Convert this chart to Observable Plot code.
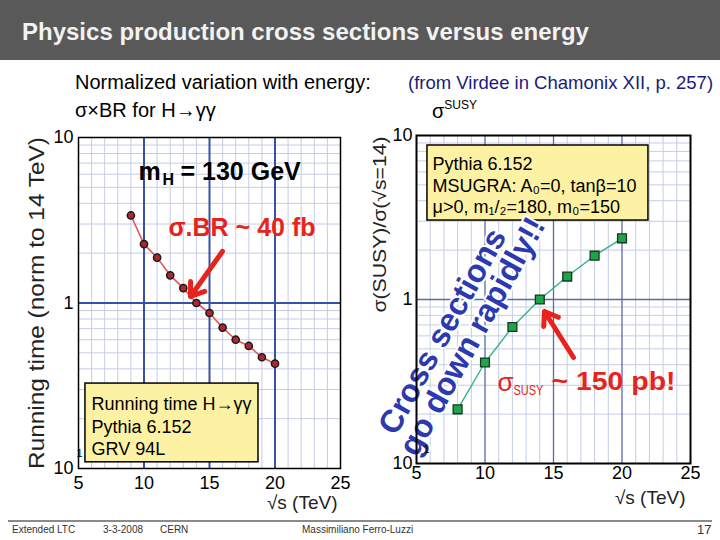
<!DOCTYPE html>
<html>
<head>
<meta charset="utf-8">
<script src="https://cdn.jsdelivr.net/npm/d3@7"></script>
<script src="https://cdn.jsdelivr.net/npm/@observablehq/plot@0.6"></script>
<style>
  html, body { margin: 0; padding: 0; background: #fff; }
  body { font-family: "Liberation Sans", Arial, Helvetica, sans-serif; }
  #page { position: relative; width: 720px; height: 540px; overflow: hidden; background: #fff; }
  .t { position: absolute; white-space: nowrap; line-height: 1; }
  #header { position: absolute; left: 0; top: 0; width: 720px; height: 60px; background: #595959; }
  #footline { position: absolute; left: 8px; top: 520px; width: 704px; height: 2px; background: #8a8a8a; }
  .foot { font-size: 10px; color: #333; }
</style>
</head>
<body>
<div id="page">
  <div id="header"></div>
  <div class="t" style="left:22px;top:20px;font-size:24px;font-weight:bold;color:#f2f2f2;">Physics production cross sections versus energy</div>
  <div class="t" style="left:75px;top:72px;font-size:20px;color:#000;">Normalized variation with energy:</div>
  <div class="t" style="left:75px;top:100px;font-size:20px;color:#000;">σ×BR for H→γγ</div>
  <div class="t" style="left:408px;top:74px;font-size:18.5px;color:#1a1a80;">(from Virdee in Chamonix XII, p. 257)</div>
  <div class="t" style="left:432px;top:101px;font-size:20px;color:#000;">σ<span style="font-size:12px;position:relative;top:-9px;">SUSY</span></div>
  <div id="footline"></div>
  <div class="t foot" style="left:12px;top:525px;">Extended LTC</div>
  <div class="t foot" style="left:103px;top:525px;">3-3-2008</div>
  <div class="t foot" style="left:160px;top:525px;">CERN</div>
  <div class="t foot" style="left:302px;top:525px;">Massimiliano Ferro-Luzzi</div>
  <div class="t" style="left:697px;top:523px;font-size:13px;color:#333;">17</div>
</div>
<script>
// ---------------- data ----------------
const higgsEnergy  = [9, 10, 11, 12, 13, 14, 15, 16, 17, 18, 19, 20];
const higgsRunTime = [3.38, 2.27, 1.88, 1.47, 1.23, 1.0, 0.87, 0.71, 0.60, 0.55, 0.47, 0.43];
const susyEnergy   = [8, 10, 12, 14, 16, 18, 20];
const susyRatio    = [0.214, 0.413, 0.68, 1.0, 1.38, 1.85, 2.36];

const xTicks      = [5, 10, 15, 20, 25];
const yTicks      = [0.1, 1, 10];
const yTickLabels = ["10", "1", "10"];
const majorGridX  = [10, 15, 20];
const majorGridY  = [1];
const minorGridX  = [6, 7, 8, 9, 11, 12, 13, 14, 16, 17, 18, 19, 21, 22, 23, 24];
const minorGridY  = [0.2, 0.3, 0.4, 0.5, 0.6, 0.7, 0.8, 0.9, 2, 3, 4, 5, 6, 7, 8, 9];

// annotation anchors (data coordinates)
const leftBox     = [{x1: 5.53, x2: 18.74, y1: 0.109, y2: 0.326}];
const leftBoxText = [{x: 5.99, y: 0.28, text: "Running time H→γγ\nPythia 6.152\nGRV 94L"}];
const massLabel   = [{x: 9.58, y: 6.15}];
const brLabel     = [{x: 11.87, y: 2.82, text: "σ.BR ~ 40 fb"}];
const leftArrow   = [{x1: 15.99, y1: 2.05, x2: 13.55, y2: 1.095}];

const rightBox     = [{x1: 5.80, x2: 21.93, y1: 3.03, y2: 8.69}];
const rightBoxText = [{x: 6.17, y: 7.62, text: "Pythia 6.152\nMSUGRA: A₀=0, tanβ=10\nμ>0, m₁/₂=180, m₀=150"}];
const slogan       = [{x: 6.90, y: 0.638, text: "Cross sections"}, {x: 9.09, y: 0.595, text: "go down rapidly!!"}];
const rightArrow   = [{x1: 16.46, y1: 0.443, x2: 14.34, y2: 0.845}];
const susyLabel    = [{x: 10.91, y: 0.312}];

const leftYLabel  = "Running time (norm to 14 TeV)";
const rightYLabel = "σ(SUSY)/σ(√s=14)";
const xLabel      = "√s (TeV)";
const susySub     = "SUSY";
const susyValue   = "~ 150 pb!";

const higgs = higgsEnergy.map((e, i) => ({energy: e, value: higgsRunTime[i]}));
const susy  = susyEnergy.map((e, i) => ({energy: e, value: susyRatio[i]}));

const FONT = '"Liberation Sans", Arial, Helvetica, sans-serif';
const RED = "#e8231c";
const tickLabel = d => yTickLabels[yTicks.indexOf(d)];

function grids(majorColor, majorWidth) {
  return [
    Plot.gridX({ticks: minorGridX, stroke: "#c4cce6", strokeOpacity: 1, strokeWidth: 1}),
    Plot.gridY({ticks: minorGridY, stroke: "#c4cce6", strokeOpacity: 1, strokeWidth: 1}),
    Plot.gridX({ticks: majorGridX, stroke: majorColor, strokeOpacity: 1, strokeWidth: majorWidth}),
    Plot.gridY({ticks: majorGridY, stroke: majorColor, strokeOpacity: 1, strokeWidth: majorWidth})
  ];
}

function axes(padX, padY) {
  return [
    Plot.axisX({ticks: xTicks, tickSize: 0, tickPadding: padX, fontSize: 18, label: null}),
    Plot.axisY({ticks: yTicks, tickFormat: tickLabel, tickSize: 0, tickPadding: padY, fontSize: 18, label: null})
  ];
}

// ---------------- left chart ----------------
const left = Plot.plot({
  width: 360, height: 390,
  marginLeft: 78, marginRight: 20, marginTop: 17, marginBottom: 42,
  style: {fontFamily: FONT, fontSize: "18px", color: "#000", background: "transparent", overflow: "visible"},
  x: {domain: [5, 25]},
  y: {type: "log", domain: [0.1, 10]},
  marks: [
    ...grids("#3652a8", 2),
    Plot.line(higgs, {x: "energy", y: "value", stroke: "#e0585a", strokeWidth: 1.6}),
    Plot.dot(higgs, {x: "energy", y: "value", r: 3.6, fill: "#b0262e", stroke: "#1a1a1a", strokeWidth: 1.5}),
    Plot.rect(leftBox, {x1: "x1", x2: "x2", y1: "y1", y2: "y2", fill: "#fdf2a3", stroke: "#000", strokeWidth: 1.5}),
    Plot.text(leftBoxText, {x: "x", y: "y", text: "text", textAnchor: "start", lineAnchor: "top", lineHeight: 1.25, fontSize: 18, fill: "#000"}),
    Plot.text(massLabel, {x: "x", y: "y", text: () => "m", textAnchor: "start", fontSize: 25, fontWeight: "bold", fill: "#000"}),
    Plot.text(massLabel, {x: "x", y: "y", text: () => "H", textAnchor: "start", fontSize: 16, fontWeight: "bold", dx: 24, dy: 7, fill: "#000"}),
    Plot.text(massLabel, {x: "x", y: "y", text: () => "= 130 GeV", textAnchor: "start", fontSize: 25, fontWeight: "bold", dx: 42, fill: "#000"}),
    Plot.text(brLabel, {x: "x", y: "y", text: "text", textAnchor: "start", fontSize: 25, fontWeight: "bold", fill: RED}),
    Plot.arrow(leftArrow, {x1: "x1", y1: "y1", x2: "x2", y2: "y2", stroke: RED, strokeWidth: 5, headLength: 4.5, headAngle: 70}),
    Plot.frame({stroke: "#000", strokeWidth: 1.5}),
    ...axes(8, 5),
    Plot.text(["1"], {frameAnchor: "bottom-left", dx: -2, dy: -12, fontSize: 11, fill: "#000"}),
    Plot.text([leftYLabel], {frameAnchor: "left", textAnchor: "middle", lineAnchor: "middle", rotate: -90, dx: -42, fontSize: 22, fill: "#222"}),
    Plot.text([xLabel], {frameAnchor: "bottom-right", textAnchor: "end", lineAnchor: "middle", dx: -3, dy: 34, fontSize: 19, fill: "#222"})
  ]
});

// ---------------- right chart ----------------
const right = Plot.plot({
  width: 360, height: 390,
  marginLeft: 56, marginRight: 30, marginTop: 15, marginBottom: 47,
  style: {fontFamily: FONT, fontSize: "18px", color: "#000", background: "transparent", overflow: "visible"},
  x: {domain: [5, 25]},
  y: {type: "log", domain: [0.1, 10]},
  marks: [
    ...grids("#5a6aa8", 1.3),
    Plot.line(susy, {x: "energy", y: "value", stroke: "#38b08c", strokeWidth: 1.4}),
    Plot.dot(susy, {x: "energy", y: "value", symbol: "square", r: 5, fill: "#21a348", stroke: "#123a1e", strokeWidth: 1.3}),
    Plot.rect(rightBox, {x1: "x1", x2: "x2", y1: "y1", y2: "y2", fill: "#fdf2a3", stroke: "#000", strokeWidth: 1.5}),
    Plot.text(rightBoxText, {x: "x", y: "y", text: "text", textAnchor: "start", lineAnchor: "top", lineHeight: 1.2, fontSize: 18, fill: "#000"}),
    Plot.text(slogan, {x: "x", y: "y", text: "text", rotate: -61, fontSize: 32, fontWeight: "bold", fill: "#2b3ab0", stroke: "#ffffff", strokeWidth: 4, paintOrder: "stroke"}),
    Plot.arrow(rightArrow, {x1: "x1", y1: "y1", x2: "x2", y2: "y2", stroke: RED, strokeWidth: 5, headLength: 4.5, headAngle: 70}),
    Plot.text(susyLabel, {x: "x", y: "y", text: () => "σ", textAnchor: "start", fontSize: 26, fill: RED}),
    Plot.text(susyLabel, {x: "x", y: "y", text: () => susySub, textAnchor: "start", fontSize: 15, dx: 16, dy: 8, fill: RED}),
    Plot.text(susyLabel, {x: "x", y: "y", text: () => susyValue, textAnchor: "start", fontSize: 25, fontWeight: "bold", dx: 54, fill: RED}),
    Plot.frame({stroke: "#000", strokeWidth: 2}),
    ...axes(3, 4),
    Plot.text(["1"], {frameAnchor: "bottom-left", dx: 7, dy: -11, fontSize: 11, fill: "#000"}),
    Plot.text([rightYLabel], {frameAnchor: "top-left", textAnchor: "end", lineAnchor: "middle", rotate: -90, dx: -36, dy: 1, fontSize: 18, fill: "#222"}),
    Plot.text([xLabel], {frameAnchor: "bottom-right", textAnchor: "end", lineAnchor: "middle", dx: -5, dy: 34, fontSize: 19, fill: "#222"})
  ]
});

// fit some texts to the lengths they have in the reference
function stretch(svg, label, len) {
  for (const t of svg.querySelectorAll("text")) {
    if (t.textContent === label) {
      t.setAttribute("textLength", len);
      t.setAttribute("lengthAdjust", "spacingAndGlyphs");
    }
  }
}
stretch(left, leftYLabel, 332);
stretch(right, rightYLabel, 176);
stretch(right, susySub, 30);
stretch(right, susyValue, 124);

const page = document.getElementById("page");
for (const [svg, x] of [[left, 0], [right, 360]]) {
  svg.style.position = "absolute";
  svg.style.left = x + "px";
  svg.style.top = "120px";
  page.appendChild(svg);
}
</script>
</body>
</html>
